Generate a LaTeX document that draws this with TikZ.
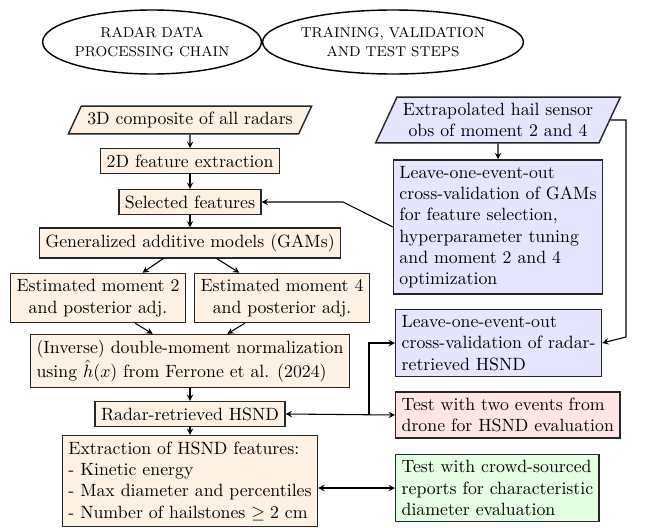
\documentclass[tikz,border=0pt]{standalone}
\usepackage{amsmath,amssymb}
\usetikzlibrary{shapes.geometric}

\begin{document}
\begin{tikzpicture}[x=0.5625pt,y=-0.5625pt,thick,>=stealth,
        title/.style={ellipse,draw,align=center,font=\footnotesize,inner sep=0pt,minimum height=36pt},
        rbox/.style={draw=black!85,fill=orange!10},
        bbox/.style={draw=black!85,fill=blue!10,align=left},
        para/.style={trapezium,trapezium left angle=65,trapezium right angle=115},
        link/.style={->,semithick}]
    \useasboundingbox (0,0) rectangle (652,528);
    % headings
    \node[title,minimum width=123pt] (head1) at (152,42) {RADAR DATA\\[1.5pt]PROCESSING CHAIN};
    \node[title,minimum width=146pt] (head2) at (393,42) {TRAINING, VALIDATION\\[1.5pt]AND TEST STEPS};
    % radar chain
    \node[rbox,para] (comp) at (190,120) {3D composite of all radars};
    \node[rbox] (feat) at (190,161) {2D feature extraction};
    \node[rbox] (sel) at (190,202) {Selected features};
    \node[rbox] (gam) at (190,243) {Generalized additive models (GAMs)};
    \node[rbox,align=center] (est2) at (98,298) {Estimated moment 2\\and posterior adj.};
    \node[rbox,align=center] (est4) at (282,298) {Estimated moment 4\\and posterior adj.};
    \node[rbox,align=left] (inv) at (190,361) {(Inverse) double-moment normalization\\using $\hat{h}(x)$ from Ferrone et al. (2024)};
    \node[rbox] (hsnd) at (190,414) {Radar-retrieved HSND};
    \node[rbox,align=left] (extr) at (190,481) {Extraction of HSND features:\\- Kinetic energy\\- Max diameter and percentiles\\- Number of hailstones $\geq 2$ cm};
    % training, validation, test
    \node[bbox,para,align=center] (obs) at (498,120) {Extrapolated hail sensor\\obs of moment 2 and 4};
    \node[bbox] (gamcv) at (498,227) {Leave-one-event-out\\cross-validation of GAMs\\for feature selection,\\hyperparameter tuning\\and moment 2 and 4\\optimization};
    \node[bbox,anchor=west] (radcv) at (395,343) {Leave-one-event-out\\cross-validation of radar-\\retrieved HSND};
    \node[rbox,fill=red!10,align=left,anchor=west] (drone) at (395,415) {Test with two events from\\drone for HSND evaluation};
    \node[rbox,fill=green!10,align=left,anchor=west] (crowd) at (395,488) {Test with crowd-sourced\\reports for characteristic\\diameter evaluation};
    \coordinate (kink) at (343,202);
    \coordinate (c1) at (626,120);
    \coordinate (c2) at (626,337);
    \coordinate (split) at (369,415);
    % arrows
    \draw[link] (comp) -- (feat);
    \draw[link] (feat) -- (sel);
    \draw[link] (sel) -- (gam);
    \draw[link] ([xshift=-15pt]gam.south) -- ([xshift=25pt]est2.north);
    \draw[link] ([xshift=15pt]gam.south) -- ([xshift=-24pt]est4.north);
    \draw[link] ([xshift=21pt]est2.south) -- ([xshift=-21pt]inv.north);
    \draw[link] ([xshift=-21pt]est4.south) -- ([xshift=21pt]inv.north);
    \draw[link] (inv) -- (hsnd);
    \draw[link] (hsnd) -- (extr);
    \draw[link] (obs) -- (gamcv);
    \draw[link] (gamcv.west) -- (kink) -- (sel.east);
    \draw[link] (obs.east) -- (c1) -- (c2) -- (radcv.east);
    \draw[link,<->] (hsnd.east) -- (drone.west);
    \draw[link] (split) |- (radcv.west);
    \draw[link,<->] (crowd.west -| extr.east) -- (crowd.west);
\end{tikzpicture}
\end{document}
